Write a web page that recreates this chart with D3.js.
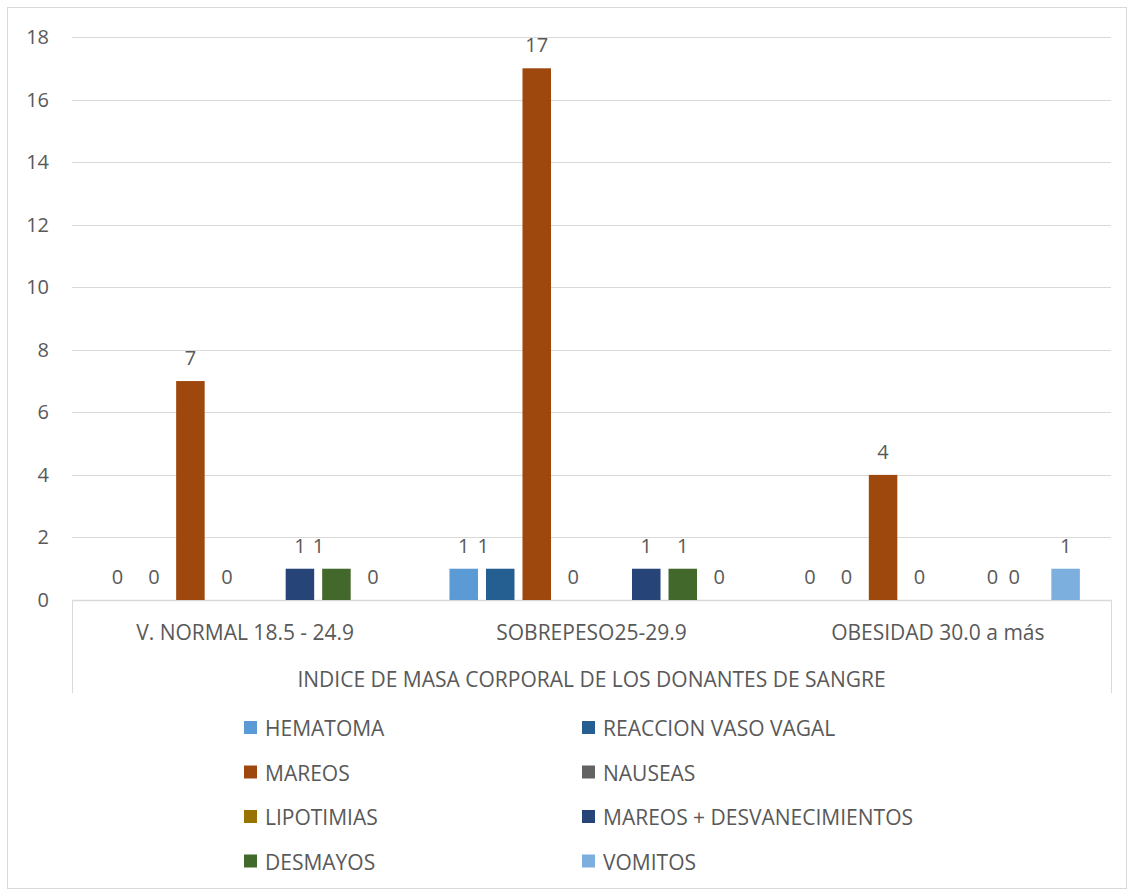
<!DOCTYPE html>
<html>
<head>
<meta charset="utf-8">
<script src="https://cdn.jsdelivr.net/npm/d3@7"></script>
<style>
  body { margin: 0; background: #fff; }
  text { font-family: "Open Sans", sans-serif; fill: #595959; }
</style>
</head>
<body>
<div id="chart"></div>
<script>
// categories on the x axis
var categories = ["V. NORMAL 18.5 - 24.9", "SOBREPESO25-29.9", "OBESIDAD 30.0 a más"];
// series (legend order)
var seriesNames = ["HEMATOMA", "REACCION VASO VAGAL", "MAREOS", "NAUSEAS",
                   "LIPOTIMIAS", "MAREOS + DESVANECIMIENTOS", "DESMAYOS", "VOMITOS"];
var hematoma   = [0, 1, 0];
var reaccion   = [0, 1, 0];
var mareos     = [7, 17, 4];
var nauseas    = [0, 0, 0];
var lipotimias = [null, null, null];
var mareosDesv = [1, 1, 0];
var desmayos   = [1, 1, 0];
var vomitos    = [0, 0, 1];
var yTicks = [0, 2, 4, 6, 8, 10, 12, 14, 16, 18];
var axisTitle = "INDICE DE MASA CORPORAL DE LOS DONANTES DE SANGRE";

var seriesValues = [hematoma, reaccion, mareos, nauseas, lipotimias, mareosDesv, desmayos, vomitos];
var colors = ["#5B9BD5", "#255E91", "#9E480E", "#636363", "#997300", "#264478", "#43682B", "#7CAFDD"];

var W = 1133, H = 895;
var plot = { left: 72, right: 1111, top: 37, bottom: 600 };

var svg = d3.select('#chart').append('svg')
    .attr('width', W)
    .attr('height', H);

// outer border
svg.append('rect')
    .attr('x', 7.5).attr('y', 7.5)
    .attr('width', 1119).attr('height', 881)
    .attr('fill', '#fff')
    .attr('stroke', '#d9d9d9');

var y = d3.scaleLinear().domain([0, 18]).range([plot.bottom, plot.top]);

var x0 = d3.scaleBand()
    .domain(categories)
    .range([plot.left, plot.right])
    .padding(0);

var x1 = d3.scaleBand()
    .domain(seriesNames)
    .range([0, x0.bandwidth()])
    .paddingInner(0.219)
    .paddingOuter(0.853);

// gridlines
svg.append('g')
    .selectAll('line')
    .data(yTicks.filter(d => d > 0))
    .join('line')
    .attr('x1', plot.left).attr('x2', plot.right)
    .attr('y1', d => Math.round(y(d)) + 0.5)
    .attr('y2', d => Math.round(y(d)) + 0.5)
    .attr('stroke', '#d9d9d9');

// y labels
svg.append('g')
    .selectAll('text')
    .data(yTicks)
    .join('text')
    .attr('x', 49)
    .attr('y', d => y(d) + 7)
    .attr('text-anchor', 'end')
    .style('font-size', '20px')
    .text(d => d);

// category axis box
svg.append('line')
    .attr('x1', plot.left).attr('x2', plot.right)
    .attr('y1', plot.bottom + 0.5).attr('y2', plot.bottom + 0.5)
    .attr('stroke', '#d9d9d9').attr('stroke-width', 1.5);
svg.append('line')
    .attr('x1', plot.left + 0.5).attr('x2', plot.left + 0.5)
    .attr('y1', plot.bottom).attr('y2', 693)
    .attr('stroke', '#d9d9d9');
svg.append('line')
    .attr('x1', plot.right + 0.5).attr('x2', plot.right + 0.5)
    .attr('y1', plot.bottom).attr('y2', 693)
    .attr('stroke', '#d9d9d9');

svg.append('g')
    .selectAll('text')
    .data(categories)
    .join('text')
    .attr('x', d => x0(d) + x0.bandwidth() / 2)
    .attr('y', 640)
    .attr('text-anchor', 'middle')
    .style('font-size', '21px')
    .text(d => d);

svg.append('text')
    .attr('x', (plot.left + plot.right) / 2)
    .attr('y', 687)
    .attr('text-anchor', 'middle')
    .style('font-size', '21px')
    .text(axisTitle);

// flat records for bars
var records = [];
categories.forEach(function(c, ci) {
  seriesNames.forEach(function(s, si) {
    records.push({ cat: c, ci: ci, series: s, si: si, value: seriesValues[si][ci] });
  });
});
var shown = records.filter(d => d.value !== null);

var groups = svg.append('g');
groups.selectAll('rect')
    .data(shown.filter(d => d.value > 0))
    .join('rect')
    .attr('x', d => x0(d.cat) + x1(d.series))
    .attr('y', d => y(d.value))
    .attr('width', x1.bandwidth())
    .attr('height', d => y(0) - y(d.value))
    .attr('fill', d => colors[d.si]);

// labels that were dragged aside in the original
var labelNudge = { "0-6": -18, "1-1": -17, "2-6": -15 };

groups.selectAll('text')
    .data(shown)
    .join('text')
    .attr('x', d => x0(d.cat) + x1(d.series) + x1.bandwidth() / 2 + (labelNudge[d.ci + '-' + d.si] || 0))
    .attr('y', d => y(d.value) - 16)
    .attr('text-anchor', 'middle')
    .style('font-size', '20px')
    .text(d => d.value);

// legend, two columns
var legend = svg.append('g')
    .selectAll('g')
    .data(seriesNames)
    .join('g')
    .attr('transform', (d, i) => `translate(${i % 2 === 0 ? 244 : 582}, ${721 + Math.floor(i / 2) * 44.5})`);

legend.append('rect')
    .attr('width', 13).attr('height', 13)
    .attr('fill', (d, i) => colors[i]);

legend.append('text')
    .attr('x', 21)
    .attr('y', 15)
    .style('font-size', '21px')
    .text(d => d);
</script>
</body>
</html>
